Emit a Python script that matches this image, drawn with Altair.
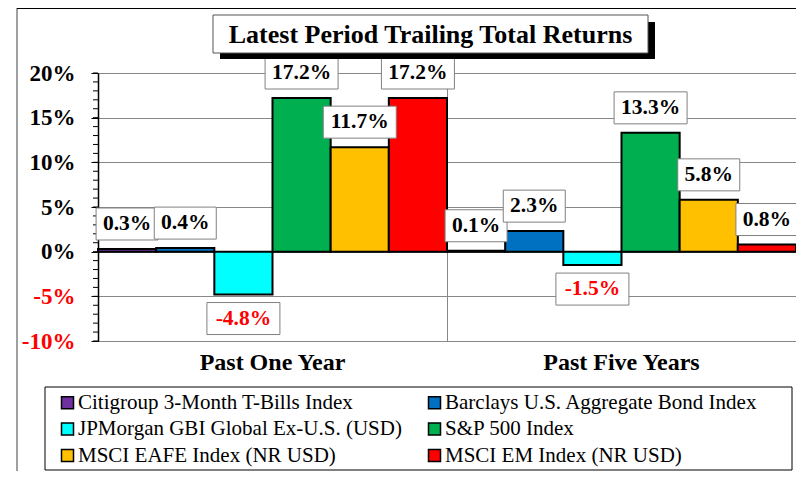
import altair as alt
import pandas as pd

categories = ["Past One Year", "Past Five Years"]
series = [
    "Citigroup 3-Month T-Bills Index",
    "Barclays U.S. Aggregate Bond Index",
    "JPMorgan GBI Global Ex-U.S. (USD)",
    "S&P 500 Index",
    "MSCI EAFE Index (NR USD)",
    "MSCI EM Index (NR USD)",
]
colors = ["#7030A0", "#0070C0", "#00FFFF", "#00B050", "#FFC000", "#FF0000"]
one_year = [0.3, 0.4, -4.8, 17.2, 11.7, 17.2]
five_year = [0.1, 2.3, -1.5, 13.3, 5.8, 0.8]
y_ticks = [-10, -5, 0, 5, 10, 15, 20]
minor_ticks = [-10, -9, -8, -7, -6, -5, -4, -3, -2, -1, 0, 1, 2, 3, 4, 5, 6, 7, 8, 9,
               10, 11, 12, 13, 14, 15, 16, 17, 18, 19, 20]
title_text = "Latest Period Trailing Total Returns"

# legend is filled column by column: reorder so it reads row by row like the original
legend_order = [series[0], series[2], series[4], series[1], series[3], series[5]]
legend_colors = [colors[series.index(s)] for s in legend_order]

rows = []
for cat, vals in zip(categories, [one_year, five_year]):
    for s, v in zip(series, vals):
        rows.append({"period": cat, "series": s, "value": v, "label": f"{v:.1f}%"})
df = pd.DataFrame(rows)

SERIF = "Liberation Serif"
W, H = 698, 268

x_axis = alt.Axis(title=None, labelAngle=0, labelFont=SERIF, labelFontSize=24,
                  labelFontWeight="bold", labelColor="black", labelPadding=9,
                  domain=False, ticks=False, grid=True, gridColor="#888888",
                  bandPosition=0)
x_enc = alt.X("period:N", sort=categories,
              scale=alt.Scale(paddingInner=0, paddingOuter=0), axis=x_axis)
xo = alt.XOffset("series:N", sort=series,
                 scale=alt.Scale(paddingInner=0, paddingOuter=0))
y_scale = alt.Scale(domain=[-10, 20], nice=False)
y_axis = alt.Axis(title=None, values=y_ticks, labelExpr="datum.value + '%'",
                  labelFont=SERIF, labelFontSize=23, labelFontWeight="bold",
                  labelColor=alt.condition("datum.value < 0", alt.value("red"), alt.value("black")),
                  labelPadding=16, tickSize=7, tickColor="black", domainColor="black",
                  domainWidth=1.5, grid=True, gridColor="#888888")
y_enc = alt.Y("value:Q", scale=y_scale, axis=y_axis)

one = alt.Data(values=[{"k": 1}])

bars = alt.Chart(df).mark_bar(stroke="black", strokeWidth=2).encode(
    x=x_enc, xOffset=xo, y=y_enc,
    color=alt.Color("series:N",
                    scale=alt.Scale(domain=legend_order, range=legend_colors),
                    legend=alt.Legend(title=None, orient="none", legendX=-41, legendY=319,
                                      columns=2, columnPadding=22, rowPadding=4.5,
                                      labelFont=SERIF, labelFontSize=21, labelColor="black",
                                      labelLimit=600, labelOffset=0,
                                      symbolType="square", symbolSize=144,
                                      symbolStrokeColor="black", symbolStrokeWidth=1.5,
                                      symbolOpacity=1, padding=0)),
)

zero = alt.Chart(alt.Data(values=[{"value": 0}])).mark_rule(
    color="black", strokeWidth=1).encode(y=y_enc)

minor = alt.Chart(pd.DataFrame({"value": minor_ticks})).mark_rule(color="black").encode(
    y=y_enc, x=alt.value(-5), x2=alt.value(0),
)

box_path_pos = "'M' + (-datum.w/2) + ',-41h' + datum.w + 'v32h' + (-datum.w) + 'z'"
box_path_neg = "'M' + (-datum.w/2) + ',8h' + datum.w + 'v32h' + (-datum.w) + 'z'"

pos = alt.Chart(df).transform_filter("datum.value >= 0").transform_calculate(
    w="length(datum.label) * 11 + 18")
neg = alt.Chart(df).transform_filter("datum.value < 0").transform_calculate(
    w="length(datum.label) * 11 + 18")

pos_box = pos.transform_calculate(box=box_path_pos).mark_point(
    size=4, filled=True, fill="white", stroke="#808080", strokeWidth=1, opacity=1
).encode(x=x_enc, xOffset=xo, y=y_enc, shape=alt.Shape("box:N", scale=None))
neg_box = neg.transform_calculate(box=box_path_neg).mark_point(
    size=4, filled=True, fill="white", stroke="#808080", strokeWidth=1, opacity=1
).encode(x=x_enc, xOffset=xo, y=y_enc, shape=alt.Shape("box:N", scale=None))

pos_txt = pos.mark_text(dy=-25, font=SERIF, fontSize=21.5, fontWeight="bold",
                        color="black", baseline="middle").encode(
    x=x_enc, xOffset=xo, y=y_enc, text="label:N")
neg_txt = neg.mark_text(dy=24, font=SERIF, fontSize=21.5, fontWeight="bold",
                        color="red", baseline="middle").encode(
    x=x_enc, xOffset=xo, y=y_enc, text="label:N")

frame_left = alt.Chart(one).mark_rule(color="#808080", strokeWidth=1.5).encode(
    x=alt.value(-81), y=alt.value(-65), y2=alt.value(420))
frame_top = alt.Chart(one).mark_rule(color="black", strokeWidth=1).encode(
    x=alt.value(-81), x2=alt.value(W), y=alt.value(-64.5))

shadow = alt.Chart(one).mark_rect(color="black").encode(
    x=alt.value(122), x2=alt.value(557), y=alt.value(-51), y2=alt.value(-14))
tbox = alt.Chart(one).mark_rect(fill="white", stroke="#555555", strokeWidth=1).encode(
    x=alt.value(115), x2=alt.value(550), y=alt.value(-58), y2=alt.value(-20))
ttext = alt.Chart(one).mark_text(font=SERIF, fontSize=26, fontWeight="bold",
                                 color="black", baseline="middle").encode(
    x=alt.value(332.5), y=alt.value(-38.5), text=alt.datum(title_text))

legend_box = alt.Chart(one).mark_rect(fillOpacity=0, stroke="black", strokeWidth=1).encode(
    x=alt.value(-53), x2=alt.value(694), y=alt.value(314), y2=alt.value(397))

chart = alt.layer(
    frame_left, frame_top, zero, bars, minor, pos_box, neg_box, pos_txt, neg_txt,
    shadow, tbox, ttext, legend_box,
).properties(
    width=W, height=H,
    padding={"left": 90, "top": 65, "right": 0, "bottom": 130},
    autosize=alt.AutoSizeParams(type="none"),
).configure_view(stroke="#555555")

chart.save("out.html", embed_options={"renderer": "svg", "actions": False})
